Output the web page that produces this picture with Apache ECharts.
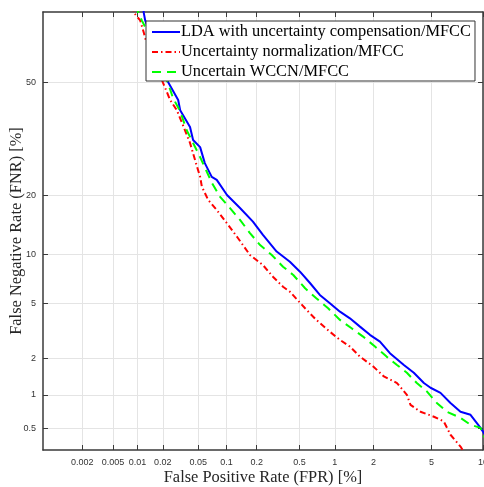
<!DOCTYPE html>
<html>
<head>
<meta charset="utf-8">
<script src="https://cdn.jsdelivr.net/npm/echarts@6/dist/echarts.min.js"></script>
<style>
  html, body { margin: 0; padding: 0; background: #fff; }
  #chart { width: 484px; height: 487px; }
</style>
</head>
<body>
<div id="chart"></div>
<script>
// DET curve, values in percent
const fprTicks = [0.002, 0.005, 0.01, 0.02, 0.05, 0.1, 0.2, 0.5, 1, 2, 5, 10];
const fnrTicks = [0.5, 1, 2, 5, 10, 20, 50];
const fprRange = [0.00058, 10];
const fnrRange = [0.31, 70];

const ldaFpr = [0.0118, 0.0119, 0.0124, 0.023, 0.030, 0.0316, 0.0407, 0.044, 0.0525, 0.059, 0.070, 0.079, 0.101, 0.137, 0.184, 0.23, 0.31, 0.41, 0.505, 0.62, 0.75, 0.91, 1.10, 1.32, 1.58, 1.88, 2.23, 2.63, 3.29, 3.84, 4.47, 4.93, 5.69, 6.54, 7.49, 8.54, 9.70, 10.0, 10.3];
const ldaFnr = [72, 69.9, 67.8, 50.1, 44.8, 41.8, 37.0, 33.4, 31.5, 27.4, 24.1, 23.4, 20.1, 17.5, 15.0, 12.8, 10.4, 9.09, 7.94, 6.74, 5.68, 5.01, 4.39, 3.95, 3.45, 3.01, 2.68, 2.19, 1.77, 1.53, 1.26, 1.15, 1.04, 0.85, 0.71, 0.666, 0.505, 0.466, 0.43];

const normFpr = [0.0085, 0.0090, 0.0108, 0.0120, 0.0124, 0.0202, 0.0243, 0.029, 0.0332, 0.0407, 0.048, 0.0525, 0.0548, 0.064, 0.079, 0.100, 0.131, 0.172, 0.23, 0.286, 0.355, 0.41, 0.56, 0.70, 0.91, 1.10, 1.32, 1.58, 1.99, 2.38, 2.95, 3.45, 3.65, 4.25, 5.18, 5.96, 6.54, 7.49, 8.0];
const normFnr = [75, 69.9, 67.8, 64.3, 62.9, 49.8, 44.8, 41.8, 38.1, 32.6, 26.9, 24.1, 21.9, 19.1, 17.1, 14.8, 12.3, 9.94, 8.7, 7.40, 6.41, 5.96, 4.63, 3.85, 3.17, 2.76, 2.46, 2.06, 1.72, 1.43, 1.26, 1.0, 0.817, 0.71, 0.64, 0.58, 0.435, 0.335, 0.28];

const wccnFpr = [0.0098, 0.0102, 0.0113, 0.0124, 0.0232, 0.0262, 0.0316, 0.0374, 0.044, 0.0525, 0.062, 0.0704, 0.0857, 0.108, 0.137, 0.172, 0.216, 0.279, 0.355, 0.44, 0.56, 0.70, 0.88, 1.10, 1.36, 1.67, 2.05, 2.49, 2.95, 3.45, 4.02, 4.67, 5.40, 6.22, 7.49, 8.54, 9.70, 10.0, 10.3];
const wccnFnr = [72, 69.9, 67.8, 66.0, 49.5, 45.4, 41.5, 36.1, 32.6, 28.9, 25.3, 22.7, 19.7, 17.5, 15.3, 13.1, 11.3, 9.94, 8.5, 7.58, 6.27, 5.40, 4.63, 3.85, 3.36, 2.92, 2.46, 2.06, 1.77, 1.53, 1.26, 1.07, 0.85, 0.71, 0.625, 0.54, 0.505, 0.435, 0.40];

const names = ['LDA with uncertainty compensation/MFCC', 'Uncertainty normalization/MFCC', 'Uncertain WCCN/MFCC'];

// inverse normal CDF (Acklam)
function probit(p) {
  const a = [-3.969683028665376e+01, 2.209460984245205e+02, -2.759285104469687e+02, 1.383577518672690e+02, -3.066479806614716e+01, 2.506628277459239e+00];
  const b = [-5.447609879822406e+01, 1.615858368580409e+02, -1.556989798598866e+02, 6.680131188771972e+01, -1.328068155288572e+01];
  const c = [-7.784894002430293e-03, -3.223964580411365e-01, -2.400758277161838e+00, -2.549732539343734e+00, 4.374664141464968e+00, 2.938163982698783e+00];
  const d = [7.784695709041462e-03, 3.224671290700398e-01, 2.445134137142996e+00, 3.754408661907416e+00];
  const pl = 0.02425;
  let q, r;
  if (p < pl) {
    q = Math.sqrt(-2 * Math.log(p));
    return (((((c[0] * q + c[1]) * q + c[2]) * q + c[3]) * q + c[4]) * q + c[5]) / ((((d[0] * q + d[1]) * q + d[2]) * q + d[3]) * q + 1);
  }
  if (p <= 1 - pl) {
    q = p - 0.5; r = q * q;
    return (((((a[0] * r + a[1]) * r + a[2]) * r + a[3]) * r + a[4]) * r + a[5]) * q / (((((b[0] * r + b[1]) * r + b[2]) * r + b[3]) * r + b[4]) * r + 1);
  }
  q = Math.sqrt(-2 * Math.log(1 - p));
  return -(((((c[0] * q + c[1]) * q + c[2]) * q + c[3]) * q + c[4]) * q + c[5]) / ((((d[0] * q + d[1]) * q + d[2]) * q + d[3]) * q + 1);
}
const pz = v => probit(v / 100);

function pairs(xs, ys) {
  return xs.map((x, i) => [pz(x), pz(ys[i])]);
}
function labelFor(ticks) {
  return function (val) {
    let best = ticks[0], bd = Infinity;
    ticks.forEach(t => {
      const dd = Math.abs(pz(t) - val);
      if (dd < bd) { bd = dd; best = t; }
    });
    return String(best);
  };
}

const axisColor = '#3a3a3a';
const gridColor = '#e4e4e4';
const tickFont = { fontFamily: 'Liberation Sans', fontSize: 9, color: '#333' };
const titleFont = { fontFamily: 'Liberation Serif', fontSize: 16.4, color: '#262626' };

function xAxisDef(top) {
  return {
    type: 'value',
    position: top ? 'top' : 'bottom',
    min: pz(fprRange[0]),
    max: pz(fprRange[1]),
    name: top ? '' : 'False Positive Rate (FPR) [%]',
    nameLocation: 'middle',
    nameGap: 20,
    nameMoveOverlap: false,
    nameTextStyle: titleFont,
    axisLine: { show: true, onZero: false, lineStyle: { color: axisColor, width: 1.5 } },
    axisTick: { show: true, inside: true, length: 5, customValues: fprTicks.map(pz), lineStyle: { color: axisColor } },
    axisLabel: top ? { show: false } : Object.assign({ show: true, margin: 8, customValues: fprTicks.map(pz), formatter: labelFor(fprTicks) }, tickFont),
    splitLine: { show: !top, lineStyle: { color: gridColor, width: 1 } }
  };
}
function yAxisDef(right) {
  return {
    type: 'value',
    position: right ? 'right' : 'left',
    min: pz(fnrRange[0]),
    max: pz(fnrRange[1]),
    name: right ? '' : 'False Negative Rate (FNR) [%]',
    nameLocation: 'middle',
    nameGap: 18,
    nameMoveOverlap: false,
    nameTextStyle: titleFont,
    axisLine: { show: true, onZero: false, lineStyle: { color: axisColor, width: 1.5 } },
    axisTick: { show: true, inside: true, length: 5, customValues: fnrTicks.map(pz), lineStyle: { color: axisColor } },
    axisLabel: right ? { show: false } : Object.assign({ show: true, margin: 7, customValues: fnrTicks.map(pz), formatter: labelFor(fnrTicks) }, tickFont),
    splitLine: { show: !right, lineStyle: { color: gridColor, width: 1 } }
  };
}

const chart = echarts.init(document.getElementById('chart'), null, { renderer: 'canvas' });
chart.setOption({
  animation: false,
  backgroundColor: '#fff',
  grid: { left: 43, right: 1, top: 12, bottom: 37, outerBoundsMode: 'none', containLabel: false },
  xAxis: [xAxisDef(false), xAxisDef(true)],
  yAxis: [yAxisDef(false), yAxisDef(true)],
  legend: {
    orient: 'vertical',
    left: 146,
    top: 21,
    padding: [3, 4, 1, 5],
    itemWidth: 28,
    itemHeight: 14,
    itemGap: 4,
    backgroundColor: '#fff',
    borderColor: '#333',
    borderWidth: 1,
    borderRadius: 0,
    itemStyle: { opacity: 0, borderWidth: 0 },
    textStyle: { fontFamily: 'Liberation Serif', fontSize: 16.4, lineHeight: 15, color: '#000', padding: [0, 0, 0, -4] },
    data: names
  },
  series: [
    {
      name: names[0], type: 'line', symbol: 'none', clip: true,
      data: pairs(ldaFpr, ldaFnr),
      lineStyle: { color: '#0000ff', width: 2, type: 'solid' },
      itemStyle: { color: '#0000ff' }
    },
    {
      name: names[1], type: 'line', symbol: 'none', clip: true,
      data: pairs(normFpr, normFnr),
      lineStyle: { color: '#ff0000', width: 2, type: [6, 3, 1.5, 3] },
      itemStyle: { color: '#ff0000' }
    },
    {
      name: names[2], type: 'line', symbol: 'none', clip: true,
      data: pairs(wccnFpr, wccnFnr),
      lineStyle: { color: '#00ff00', width: 2, type: [9, 6] },
      itemStyle: { color: '#00ff00' }
    }
  ]
});
</script>
</body>
</html>
